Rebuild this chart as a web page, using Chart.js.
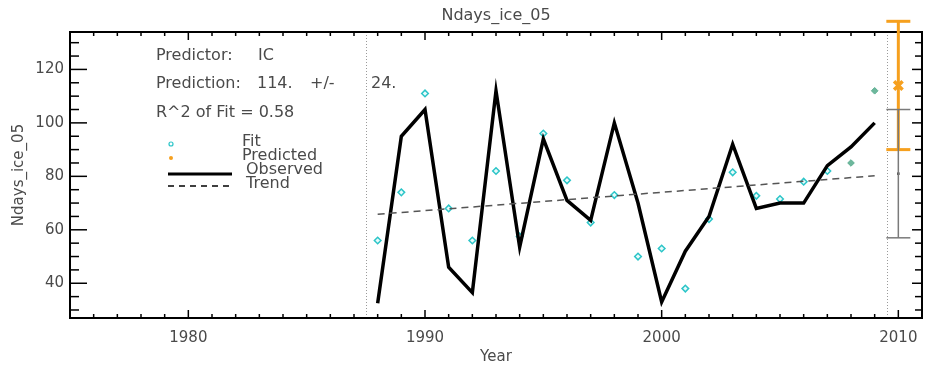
<!DOCTYPE html>
<html>
<head>
<meta charset="utf-8">
<script src="https://cdn.jsdelivr.net/npm/chart.js@4"></script>
<style>
  html, body { margin: 0; padding: 0; background: #fff; overflow: hidden; }
  #wrap { position: relative; width: 926px; height: 373px; }
  canvas { display: block; }
</style>
</head>
<body>
<div id="wrap"><canvas id="chart"></canvas></div>
<script>
// --- data
const years    = [1988, 1989, 1990, 1991, 1992, 1993, 1994, 1995, 1996, 1997, 1998,
                  1999, 2000, 2001, 2002, 2003, 2004, 2005, 2006, 2007, 2008, 2009];
const observed = [32.5, 95, 105, 46, 36.5, 112, 53.5, 94, 71, 63.5, 100,
                  70, 33, 52, 65, 92, 68, 70, 70, 84, 91, 100];
const fitYears = [1988, 1989, 1990, 1991, 1992, 1993, 1994, 1995, 1996, 1997,
                  1998, 1999, 2000, 2001, 2002, 2003, 2004, 2005, 2006, 2007];
const fitVals  = [56, 74, 111, 68, 56, 82, 57.5, 96, 78.5, 62.7,
                  73, 50, 53, 38, 64, 81.5, 72.7, 71.5, 78, 82];
const lateYears = [2008, 2009];
const lateVals  = [85, 112];
const trendYears = [1988, 2009];
const trendVals  = [65.8, 80.2];

const predYear = 2010;
const prediction = 114, predErr = 24;
const trendPred = 81, trendErr = 24;
const splitYears = [1987.5, 2009.5];

const xMajorTicks = [1980, 1990, 2000, 2010];
const yMajorTicks = [40, 60, 80, 100, 120];

const TXT = '#4a4a4a';
const CYAN = '#2cc5c8';
const ORANGE = '#f6a01e';
Chart.defaults.font.family = 'DejaVu Sans';
Chart.defaults.color = TXT;

const pts = (xs, ys) => xs.map((x, i) => ({ x, y: ys[i] }));
const noPad = s => { s.paddingLeft = 0; s.paddingRight = 0; s.paddingTop = 0; s.paddingBottom = 0; };

// box, inward ticks, dotted split lines
const frame = {
  id: 'frame',
  beforeDatasetsDraw(chart) {
    const { ctx, chartArea: { left, right, top, bottom } } = chart;
    const xs = chart.scales.x, ys = chart.scales.y;
    ctx.save();
    // dotted year separators
    ctx.strokeStyle = '#9a9a9a'; ctx.lineWidth = 1; ctx.setLineDash([1, 2]);
    splitYears.forEach(v => {
      const px = Math.round(xs.getPixelForValue(v)) + 0.5;
      ctx.beginPath(); ctx.moveTo(px, top); ctx.lineTo(px, bottom); ctx.stroke();
    });
    ctx.setLineDash([]);
    ctx.strokeStyle = '#000'; ctx.lineWidth = 1.5;
    const seg = (x1, y1, x2, y2) => { ctx.beginPath(); ctx.moveTo(x1, y1); ctx.lineTo(x2, y2); ctx.stroke(); };
    for (let v = Math.ceil(xs.min); v <= xs.max; v++) {
      const px = xs.getPixelForValue(v);
      const l = xMajorTicks.includes(v) ? 8 : 4;
      seg(px, bottom, px, bottom - l);
      seg(px, top, px, top + l);
    }
    for (let v = Math.ceil(ys.min / 5) * 5; v <= ys.max; v += 5) {
      const py = ys.getPixelForValue(v);
      const major = yMajorTicks.includes(v);
      seg(left, py, left + (major ? 17 : 9), py);
      seg(right, py, right - (major ? 10 : 7), py);
    }
    ctx.lineWidth = 2;
    ctx.strokeRect(left, top, right - left, bottom - top);
    ctx.restore();
  },
  afterDraw(chart) {
    const { ctx, chartArea: { left, right } } = chart;
    ctx.save();
    ctx.fillStyle = TXT;
    ctx.font = '16px "DejaVu Sans"';
    ctx.textBaseline = 'middle';
    ctx.textAlign = 'center';
    ctx.fillText('Ndays_ice_05', (left + right) / 2, 16);
    ctx.textAlign = 'left';
    ctx.fillText('Predictor:', 156, 56);
    ctx.fillText('IC', 258, 56);
    ctx.fillText('Prediction:', 156, 84);
    ctx.fillText(prediction + '.', 257, 84);
    ctx.fillText('+/-', 310, 84);
    ctx.fillText(predErr + '.', 371, 84);
    ctx.fillText('R^2 of Fit = 0.58', 156, 113);
    // legend
    ctx.fillText('Fit', 242, 142);
    ctx.fillText('Predicted', 242, 156);
    ctx.fillText('Observed', 246, 170);
    ctx.fillText('Trend', 246, 184);
    ctx.strokeStyle = CYAN; ctx.lineWidth = 1.2;
    ctx.beginPath(); ctx.arc(171, 144, 2, 0, Math.PI * 2); ctx.stroke();
    ctx.fillStyle = ORANGE;
    ctx.beginPath(); ctx.arc(171, 158, 2, 0, Math.PI * 2); ctx.fill();
    ctx.strokeStyle = '#000'; ctx.lineWidth = 3;
    ctx.beginPath(); ctx.moveTo(168, 174); ctx.lineTo(232, 174); ctx.stroke();
    ctx.lineWidth = 1.5; ctx.setLineDash([6, 5]);
    ctx.beginPath(); ctx.moveTo(168, 186); ctx.lineTo(232, 186); ctx.stroke();
    ctx.restore();
  }
};

new Chart(document.getElementById('chart'), {
  type: 'scatter',
  data: {
    datasets: [
      { label: 'Trend', type: 'line', data: pts(trendYears, trendVals),
        borderColor: '#555', borderWidth: 1.5, borderDash: [7, 5], pointRadius: 0 },
      { label: 'Observed', type: 'line', data: pts(years, observed),
        borderColor: '#000', borderWidth: 3.5, pointRadius: 0, tension: 0 },
      { label: 'Fit', data: pts(fitYears, fitVals), pointStyle: 'rectRot',
        pointRadius: 3.3, borderColor: CYAN, borderWidth: 1.5, backgroundColor: '#e8fbfb' },
      { label: 'Late', data: pts(lateYears, lateVals), pointStyle: 'rectRot',
        pointRadius: 3.3, borderColor: '#5daf92', borderWidth: 1, backgroundColor: '#6db79c' },
      { label: 'TrendErr', type: 'line', clip: false,
        data: pts([predYear, predYear], [trendPred - trendErr, trendPred + trendErr]),
        borderColor: '#7a7a7a', borderWidth: 1.5, pointStyle: 'line', pointRadius: 12,
        pointBorderColor: '#7a7a7a', pointBorderWidth: 1.5 },
      { label: 'TrendMid', data: pts([predYear], [trendPred]), pointStyle: 'rect',
        pointRadius: 1.8, backgroundColor: '#444', borderColor: '#444', borderWidth: 0 },
      { label: 'PredErr', type: 'line', clip: false,
        data: pts([predYear, predYear], [prediction - predErr, prediction + predErr]),
        borderColor: ORANGE, borderWidth: 3, pointStyle: 'line', pointRadius: 12,
        pointBorderColor: ORANGE, pointBorderWidth: 3 },
      { label: 'Predicted', data: pts([predYear], [prediction]), pointStyle: 'crossRot',
        pointRadius: 6, borderColor: ORANGE, borderWidth: 3.5, clip: false }
    ]
  },
  options: {
    responsive: true, maintainAspectRatio: false, animation: false,
    layout: { autoPadding: false, padding: { top: 32, right: 4, left: 0, bottom: 0 } },
    plugins: { legend: { display: false }, tooltip: { enabled: false } },
    scales: {
      x: {
        type: 'linear', min: 1975, max: 2011,
        grid: { display: false, drawTicks: false }, border: { display: false },
        afterBuildTicks: s => { s.ticks = xMajorTicks.map(v => ({ value: v })); },
        afterFit: s => { s.height = 55; noPad(s); },
        ticks: { padding: 11, color: TXT, font: { size: 15 }, callback: v => String(v) },
        title: { display: true, text: 'Year', color: TXT, font: { size: 15 }, padding: { top: 0, bottom: 7 } }
      },
      y: {
        min: 27, max: 134,
        grid: { display: false, drawTicks: false }, border: { display: false },
        afterBuildTicks: s => { s.ticks = yMajorTicks.map(v => ({ value: v })); },
        afterFit: s => { s.width = 70; noPad(s); },
        ticks: { padding: 6, color: TXT, font: { size: 15 } },
        title: { display: true, text: 'Ndays_ice_05', color: TXT, font: { size: 15 }, padding: { top: 10, bottom: 0 } }
      }
    }
  },
  plugins: [frame]
});
</script>
</body>
</html>
